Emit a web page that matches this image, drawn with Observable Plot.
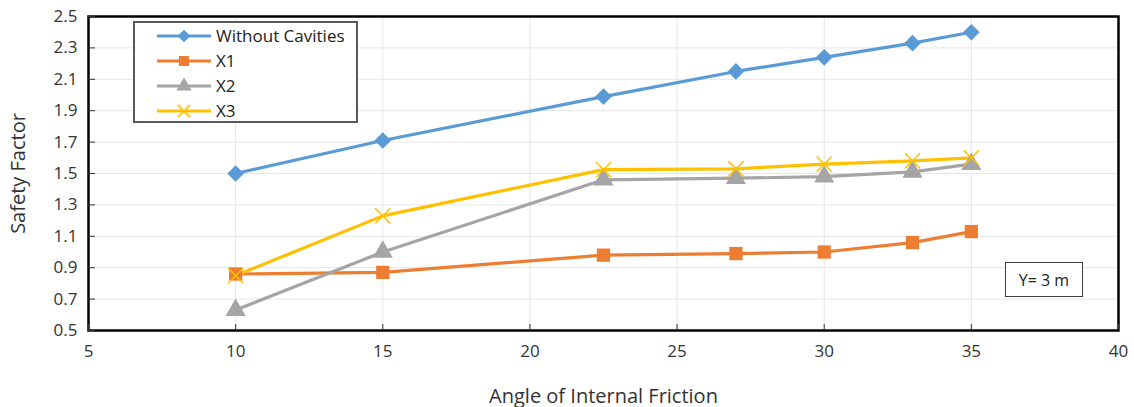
<!DOCTYPE html>
<html>
<head>
<meta charset="utf-8">
<script src="https://cdn.jsdelivr.net/npm/d3@7"></script>
<script src="https://cdn.jsdelivr.net/npm/@observablehq/plot@0.6"></script>
<style>
  body { margin: 0; background: #fff; font-family: "Open Sans", sans-serif; }
  #wrap { position: relative; width: 1134px; height: 407px; }
  #legend { position: absolute; left: 133px; top: 21px; width: 225px; height: 102px; border: 2px solid #595959; background: #fff; box-sizing: border-box; padding-top: 0px; }
  .item { display: flex; align-items: center; height: 25px; font-size: 17px; color: #222; }
  .item svg { margin-left: 21px; margin-right: 4px; }
  #note { position: absolute; left: 1005px; top: 262px; width: 78px; height: 35px; border: 1.5px solid #404040; box-sizing: border-box; font-size: 16px; color: #222; display: flex; align-items: center; justify-content: center; background: #fff; }
</style>
</head>
<body>
<div id="wrap"></div>
<script>
const angles = [10, 15, 22.5, 27, 30, 33, 35];
const withoutCavities = [1.50, 1.71, 1.99, 2.15, 2.24, 2.33, 2.40];
const x1 = [0.86, 0.87, 0.98, 0.99, 1.00, 1.06, 1.13];
const x2 = [0.63, 1.00, 1.46, 1.47, 1.48, 1.51, 1.56];
const x3 = [0.85, 1.23, 1.525, 1.53, 1.56, 1.58, 1.60];
const seriesNames = ["Without Cavities", "X1", "X2", "X3"];
const seriesValues = [withoutCavities, x1, x2, x3];
const colors = ["#5B9BD5", "#ED7D31", "#A5A5A5", "#FFC000"];
const symbols = ["diamond2", "square", "triangle", "times"];
const xTicks = [5, 10, 15, 20, 25, 30, 35, 40];
const yTicks = [0.5, 0.7, 0.9, 1.1, 1.3, 1.5, 1.7, 1.9, 2.1, 2.3, 2.5];
const xLabel = "Angle of Internal Friction";
const yLabel = "Safety Factor";
const noteText = "Y= 3 m";

const data = [];
seriesNames.forEach((s, i) => angles.forEach((a, j) => data.push({series: s, angle: a, value: seriesValues[i][j]})));

const chart = Plot.plot({
  width: 1134, height: 407,
  marginLeft: 88, marginRight: 16, marginTop: 16, marginBottom: 77,
  style: {fontFamily: "'Open Sans', sans-serif", fontSize: "16px", color: "#333", background: "#fff"},
  x: {domain: [5, 40], ticks: xTicks},
  y: {domain: [0.5, 2.5], ticks: yTicks},
  color: {domain: seriesNames, range: colors},
  symbol: {domain: seriesNames, range: symbols},
  marks: [
    Plot.gridX(xTicks, {stroke: "#e6e6e6", strokeOpacity: 1}),
    Plot.gridY(yTicks, {stroke: "#e6e6e6", strokeOpacity: 1}),
    Plot.line(data, {x: "angle", y: "value", z: "series", stroke: "series", strokeWidth: 3.2}),
    Plot.dot(data.filter(d => d.series === "Without Cavities"), {x: "angle", y: "value", symbol: "series", fill: "series", r: 7.5}),
    Plot.dot(data.filter(d => d.series === "X1" || d.series === "X2"), {x: "angle", y: "value", symbol: "series", fill: "series", r: 7.5}),
    Plot.dot(data.filter(d => d.series === "X3"), {x: "angle", y: "value", symbol: "series", stroke: "series", strokeWidth: 1.5, r: 7}),
    Plot.frame({stroke: "#000", strokeWidth: 2.5}),
    Plot.axisX(xTicks, {tickSize: -6, tickPadding: 20, tickFormat: d => String(d), label: xLabel, labelAnchor: "center", labelOffset: 72, labelArrow: "none", fontSize: 17}),
    Plot.axisY(yTicks, {tickSize: -7, tickPadding: 18, tickFormat: d => d.toFixed(1), label: yLabel, labelAnchor: "center", labelOffset: 78, labelArrow: "none", fontSize: 17})
  ]
});
d3.select(chart).selectAll("text").filter(function() { return this.textContent === xLabel || this.textContent === yLabel; }).attr("font-size", 20).style("font-size", "20px");
const wrap = document.getElementById("wrap");
wrap.appendChild(chart);

// legend
const legend = document.createElement("div");
legend.id = "legend";
const symMap = {diamond2: d3.symbolDiamond2, square: d3.symbolSquare, triangle: d3.symbolTriangle, times: d3.symbolTimes};
seriesNames.forEach((s, i) => {
  const item = document.createElement("div");
  item.className = "item";
  const sw = d3.create("svg").attr("width", 56).attr("height", 18);
  sw.append("line").attr("x1", 1).attr("x2", 55).attr("y1", 9).attr("y2", 9).attr("stroke", colors[i]).attr("stroke-width", 3);
  const path = d3.symbol(symMap[symbols[i]], 100)();
  const p = sw.append("path").attr("d", path).attr("transform", "translate(28,9)");
  if (symbols[i] === "times") p.attr("fill", "none").attr("stroke", colors[i]).attr("stroke-width", 1.5);
  else p.attr("fill", colors[i]);
  item.appendChild(sw.node());
  const t = document.createElement("span");
  t.textContent = s;
  item.appendChild(t);
  legend.appendChild(item);
});
wrap.appendChild(legend);

const note = document.createElement("div");
note.id = "note";
note.textContent = noteText;
wrap.appendChild(note);
</script>
</body>
</html>
